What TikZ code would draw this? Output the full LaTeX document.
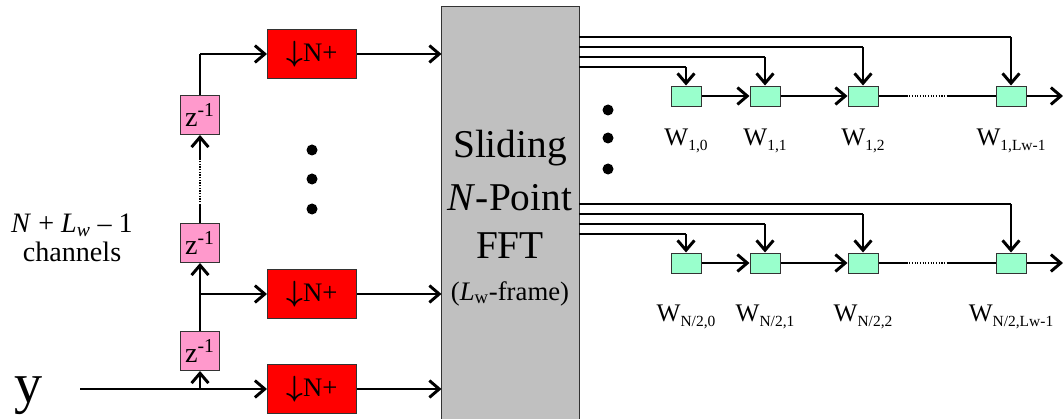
\documentclass[tikz,border=0pt]{standalone}
\usepackage{amsmath}
\usepackage{fontspec}
\setmainfont{Liberation Serif}
\usetikzlibrary{arrows.meta,positioning}
\definecolor{zpink}{HTML}{FF99CC}
\definecolor{tapgreen}{HTML}{99FFCC}
\definecolor{fftgray}{HTML}{C0C0C0}

\begin{document}
\begin{tikzpicture}[
    x=0.025cm, y=-0.025cm,
    >={Straight Barb[length=7pt,width=12pt]},
    box/.style={rectangle, draw=black!80, line width=0.7pt, inner sep=0pt},
    decim/.style={box, fill=red, minimum width=2.225cm, minimum height=1.225cm, font=\fontsize{19}{20}\selectfont},
    delay/.style={box, fill=zpink, minimum size=0.975cm, font=\fontsize{20}{20}\selectfont},
    tap/.style={box, fill=tapgreen, minimum width=0.75cm, minimum height=0.5cm},
    fftbox/.style={box, fill=fftgray, minimum width=3.425cm, minimum height=10.45cm},
    fftlbl/.style={anchor=base, font=\fontsize{28}{30}\selectfont},
    bus/.style={line width=2.1pt},
    wire/.style={line width=0.9pt},
    dot/.style={circle, fill=black, minimum size=0.275cm, inner sep=0pt},
    wlbl/.style={font=\fontsize{18}{20}\selectfont}
]
\useasboundingbox (0,0) rectangle (1063,419);

%  -- Decimators and delay chain  --
\node[decim] (tr) at (312,54)  {{\fontsize{22}{22}\selectfont$\boldsymbol{\downarrow}$}N+};
\node[decim] (mr) at (312,294) {{\fontsize{22}{22}\selectfont$\boldsymbol{\downarrow}$}N+};
\node[decim] (br) at (312,389) {{\fontsize{22}{22}\selectfont$\boldsymbol{\downarrow}$}N+};
\node[delay] (tz) at (200,115) {z\textsuperscript{-1}};
\node[delay] (mz) at (200,243) {z\textsuperscript{-1}};
\node[delay] (bz) at (200,351) {z\textsuperscript{-1}};

\node[font=\fontsize{40}{40}\selectfont] (yin) at (29,396) {y};
\node[align=center, font=\fontsize{20}{21}\selectfont] (nch) at (72,238)
  {\textit{N} + \textit{L}\textsubscript{\textit{w}} – 1\\channels};

\coordinate (ys) at (80,389);
\coordinate (j0) at (200,389);
\coordinate (j1) at (200,294);
\coordinate (j2) at (200,54);
\coordinate (d1) at (200,205);
\coordinate (d2) at (200,160);
\draw[bus,->] (ys) -- (br.west);
\draw[bus,->] (j0) -- (bz.south);
\draw[bus] (bz.north) -- (j1);
\draw[bus,->] (j1) -- (mr.west);
\draw[bus,->] (j1) -- (mz.south);
\draw[wire] (mz.north) -- (d1);
\draw[wire, densely dotted] (d1) -- (d2);
\draw[bus,->] (d2) -- (tz.south);
\draw[wire] (tz.north) -- (j2);
\draw[bus,->] (j2) -- (tr.west);

\foreach \y in {150,179,209} \node[dot] at (312,\y) {};

%  -- Sliding FFT  --
\node[fftbox] (fft) at (510.5,216) {};
\node[fftlbl] (f1) at (510,158) {Sliding};
\node[fftlbl] (f2) at (510,210) {\textit{N}-Point};
\node[fftlbl] (f3) at (510,258) {FFT};
\node[fftlbl, font=\fontsize{19}{20}\selectfont] (f4) at (510,300) {(\textit{L}\textsubscript{w}-frame)};
\draw[bus,->] (tr.east) -- (fft.west |- tr.east);
\draw[bus,->] (mr.east) -- (fft.west |- mr.east);
\draw[bus,->] (br.east) -- (fft.west |- br.east);

\foreach \y in {110,138,169} \node[dot] at (608,\y) {};

%  -- Weight taps, bins 1 and N/2  --
\foreach \g/\yb/\ya/\pre/\yl in {a/96/37/1/141, b/263/204/{N/2}/317} {
  \foreach \i/\xx/\sub in {0/686/0, 1/765/1, 2/863/2, 3/1011/{Lw-1}} {
    \pgfmathsetmacro{\yy}{\ya+(3-\i)*10}
    \node[tap] (\g\i) at (\xx,\yb) {};
    \node[wlbl] (\g l\i) at (\xx,\yl)
      {W{\fontsize{11}{12}\selectfont\raisebox{-3.5pt}{\pre,\sub}}};
    \coordinate (\g s\i) at (579,\yy);
    \coordinate (\g c\i) at (\xx,\yy);
    \draw[wire] (\g s\i) -- (\g c\i);
    \draw[bus,->] (\g c\i) -- (\g\i.north);
  }
  \draw[bus,->] (\g0.east) -- (\g1.west);
  \draw[bus,->] (\g1.east) -- (\g2.west);
  \draw[wire] (\g2.east) -- ++(28,0) coordinate (\g d1);
  \draw[wire, densely dotted] (\g d1) -- ++(40,0) coordinate (\g d2);
  \draw[wire] (\g d2) -- (\g3.west);
  \coordinate (\g out) at (1063,\yb);
  \draw[bus,->] (\g3.east) -- (\g out);
}

\end{tikzpicture}
\end{document}
